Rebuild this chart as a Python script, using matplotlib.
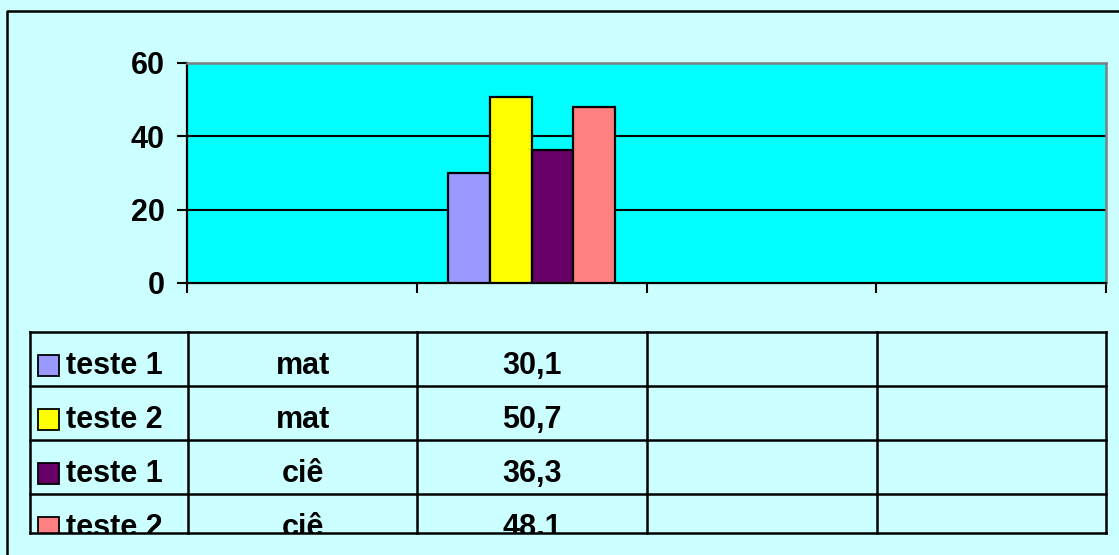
import numpy as np
import matplotlib.pyplot as plt
from matplotlib.patches import Rectangle

plt.rcParams['font.family'] = 'Liberation Sans'
plt.rcParams['font.weight'] = 'bold'

# data (from the chart's data table)
series = ['teste 1', 'teste 2', 'teste 1', 'teste 2']
subjects = ['mat', 'mat', 'ciê', 'ciê']
values = [30.1, 50.7, 36.3, 48.1]
value_labels = ['30,1', '50,7', '36,3', '48,1']
colors = ['#9999FF', '#FFFF00', '#660066', '#FF8080']
n_cats = 4
bar_cat = 1          # the numeric column is the 2nd category
yticks = [0, 20, 40, 60]

W, H = 1119, 555
fig = plt.figure(figsize=(W / 100, H / 100), dpi=100)
fig.patch.set_facecolor('#CCFFFF')


def px_axes(l, t, r, b):
    return fig.add_axes([l / W, 1 - b / H, (r - l) / W, (b - t) / H])


# outer chart frame (only left/top edges are visible)
frame = fig.add_axes([0, 0, 1, 1], zorder=-1)
frame.set_xlim(0, W)
frame.set_ylim(H, 0)
frame.axis('off')
frame.plot([7, 7, W + 5], [H + 5, 11, 11], color='black', lw=1.8, clip_on=False)

# --- bar plot ---
ax = px_axes(187, 63, 1106, 283)
ax.set_facecolor('#00FFFF')
w = 0.1818
offsets = (np.arange(len(values)) - 1.5) * w
for yv in yticks[1:-1]:
    ax.axhline(yv, color='black', lw=1.5, zorder=1)
ax.bar(bar_cat + 0.5 + offsets, values, w, color=colors,
       edgecolor='black', linewidth=1.6, zorder=3)
ax.set_xlim(0, n_cats)
ax.set_ylim(0, 60)
ax.set_xticks(range(n_cats + 1))
ax.set_xticklabels([])
ax.set_yticks(yticks)
ax.tick_params(direction='out', length=7, width=1.5, labelsize=22, pad=9)
for lab in ax.get_yticklabels():
    lab.set_fontweight('bold')
for s in ['top', 'right']:
    ax.spines[s].set_color('#808080')
    ax.spines[s].set_linewidth(1.8)
for s in ['left', 'bottom']:
    ax.spines[s].set_color('black')
    ax.spines[s].set_linewidth(1.6)

# --- data table ---
cols = [30, 188, 417, 647, 877, 1106]
rows = [332, 386, 440, 494]
bottom = 533
row_h = 54
tab = px_axes(30, 332, 1106, bottom)
tab.set_xlim(30, 1106)
tab.set_ylim(bottom, 332)
tab.axis('off')
for y in rows + [bottom]:
    tab.plot([cols[0], cols[-1]], [y, y], color='black', lw=1.8, clip_on=False)
for x in cols:
    tab.plot([x, x], [332, bottom], color='black', lw=1.8, clip_on=False)

for i in range(len(series)):
    top = rows[0] + i * row_h
    tab.add_patch(Rectangle((38, top + 23), 21, 21, facecolor=colors[i],
                            edgecolor='black', lw=1.3, clip_on=True))
    tab.text(66, top + 42, series[i], fontsize=22, fontweight='bold',
             ha='left', va='baseline', clip_on=True)
    tab.text((cols[1] + cols[2]) / 2, top + 42, subjects[i], fontsize=22,
             fontweight='bold', ha='center', va='baseline', clip_on=True)
    tab.text((cols[2] + cols[3]) / 2, top + 42, value_labels[i], fontsize=22,
             fontweight='bold', ha='center', va='baseline', clip_on=True)

fig.savefig('out.png', dpi=100, facecolor=fig.get_facecolor())
